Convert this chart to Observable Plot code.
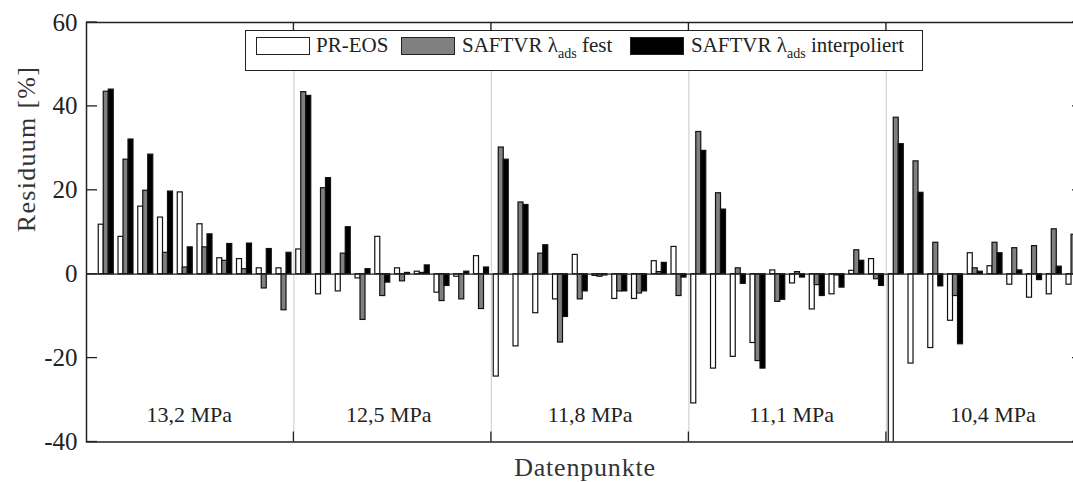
<!DOCTYPE html>
<html>
<head>
<meta charset="utf-8">
<script src="https://cdn.jsdelivr.net/npm/d3@7"></script>
<script src="https://cdn.jsdelivr.net/npm/@observablehq/plot@0.6"></script>
<style>
  html, body { margin: 0; padding: 0; background: #fff; overflow: hidden; }
  #wrap { position: relative; width: 1090px; height: 482px; }
  #wrap svg text { font-family: 'Liberation Serif', serif !important; }
  #legend { position: absolute; left: 245px; top: 30px; width: 676px; height: 39px;
    border: 1.5px solid #222; background: #fff; font-family: 'Liberation Serif', serif; color: #222; }
  #legend .sw { position: absolute; top: 5.5px; width: 52px; height: 16px; border: 1.5px solid #222; }
  #legend .tx { position: absolute; top: 3.5px; font-size: 21px; line-height: 20px; white-space: nowrap; font-family: 'Liberation Serif', serif; }
  #legend sub { font-size: 14px; vertical-align: -6px; line-height: 0; }
</style>
</head>
<body>
<div id="wrap"></div>
<script>
// Data (Residuum in %)
const seriesNames = ["PR-EOS", "SAFTVR λads fest", "SAFTVR λads interpoliert"];
const pr = [11.8, 8.9, 16.1, 13.5, 19.5, 11.9, 3.8, 3.6, 1.4, 1.4,
            5.9, -4.8, -4.1, -1.0, 8.9, 1.4, 0.6, -4.4, -0.6, 4.3,
            -24.4, -17.2, -9.3, -6.0, 4.6, -0.4, -5.9, -5.9, 3.1, 6.5,
            -30.8, -22.5, -19.7, -16.4, 0.9, -2.2, -8.4, -4.8, 0.8, 3.6,
            -42, -21.3, -17.6, -11.1, 5.0, 1.9, -2.5, -5.6, -4.8, -2.5];
const saftFest = [43.5, 27.3, 19.9, 5.1, 1.6, 6.4, 3.2, 1.2, -3.4, -8.6,
            43.4, 20.5, 4.9, -10.9, -5.2, -1.7, 0.3, -6.4, -6.0, -8.3,
            30.2, 17.1, 4.9, -16.3, -6.0, -0.6, -4.1, -4.6, 0.5, -5.2,
            33.9, 19.3, 1.4, -20.7, -6.6, 0.5, -2.6, -0.3, 5.7, -1.2,
            37.3, 26.9, 7.5, -5.2, 1.4, 7.5, 6.2, 6.7, 10.7, 9.4];
const saftInterp = [44.0, 32.1, 28.5, 19.7, 6.4, 9.5, 7.2, 7.3, 6.0, 5.1,
            42.5, 22.9, 11.2, 1.2, -2.0, 0.3, 2.1, -2.8, 0.6, 1.6,
            27.3, 16.5, 6.9, -10.2, -4.1, -0.3, -4.1, -4.1, 2.7, -0.8,
            29.4, 15.4, -2.3, -22.5, -6.1, -0.8, -5.2, -3.2, 3.2, -2.8,
            31.0, 19.4, -2.9, -16.7, 0.6, 5.0, 0.9, -1.4, 1.8, 1.0];
const pressures = ["13,2 MPa", "12,5 MPa", "11,8 MPa", "11,1 MPa", "10,4 MPa"];
const pressureLabelX = [5.2, 15.3, 25.5, 35.7, 45.9];
const separators = [10.5, 20.5, 30.5, 40.5];
const yTicks = [-40, -20, 0, 20, 40, 60];
const fills = ["#ffffff", "#808080", "#000000"];

const bw = 0.253;
const all = [pr, saftFest, saftInterp];
const rows = [];
all.forEach((vals, k) => vals.forEach((v, j) => {
  const i = j + 1;
  const c = i + (k - 1) * bw;
  rows.push({x1: c - bw / 2, x2: c + bw / 2, v, k});
}));
const labels = pressures.map((p, j) => ({p, x: pressureLabelX[j]}));

const font = "'Liberation Serif', serif";

const inwardTicks = (index, scales, values, dims) => {
  const g = d3.create("svg:g").attr("stroke", "#222").attr("stroke-width", 1.3);
  const L = dims.marginLeft, R = dims.width - dims.marginRight;
  const T = dims.marginTop, B = dims.height - dims.marginBottom;
  for (const t of yTicks) {
    const y = scales.y(t);
    g.append("line").attr("x1", L).attr("x2", L + 11).attr("y1", y).attr("y2", y);
    g.append("line").attr("x1", R).attr("x2", R - 11).attr("y1", y).attr("y2", y);
  }
  for (const s of separators) {
    const x = scales.x(s);
    g.append("line").attr("x1", x).attr("x2", x).attr("y1", B).attr("y2", B - 10);
    g.append("line").attr("x1", x).attr("x2", x).attr("y1", T).attr("y2", T + 10);
  }
  return g.node();
};

const chart = Plot.plot({
  width: 1090,
  height: 482,
  marginLeft: 86,
  marginRight: 7,
  marginTop: 22,
  marginBottom: 40.5,
  style: {fontFamily: font, background: "#fff", color: "#222"},
  x: {domain: [0, 50.48], axis: null},
  y: {domain: [-40, 60], axis: null},
  marks: [
    Plot.ruleX(separators, {stroke: "#d6d6d6", strokeWidth: 1.3}),
    Plot.rect(rows, {x1: "x1", x2: "x2", y1: 0, y2: "v", fill: d => fills[d.k], stroke: "#111", strokeWidth: 1.2, clip: true}),
    Plot.ruleY([0], {stroke: "#222", strokeWidth: 1.3}),
    Plot.text(labels, {x: "x", y: -33.6, text: "p", fontSize: 22, fontFamily: font, fill: "#222", lineAnchor: "middle"}),
    Plot.axisY(yTicks, {anchor: "left", tickSize: 0, tickPadding: 9, fontSize: 25, fontFamily: font, tickFormat: d => String(d), label: null}),
    Plot.text(["Residuum [%]"], {frameAnchor: "left", dx: -60, rotate: -90, fontSize: 26, fontFamily: font, fill: "#333", lineAnchor: "middle"}),
    Plot.text(["Datenpunkte"], {frameAnchor: "bottom", dy: 26, fontSize: 26, fontFamily: font, fill: "#333", lineAnchor: "middle"}),
    Plot.frame({stroke: "#222", strokeWidth: 1.5}),
    inwardTicks
  ]
});

// widen the two axis titles slightly, like the reference's wider typeface
d3.select(chart).selectAll("text").each(function() {
  const t = this.textContent;
  if (t === "Datenpunkte") this.style.letterSpacing = "0.8px";
  if (t === "Residuum [%]") this.style.letterSpacing = "1.3px";
});

const wrap = document.getElementById("wrap");
wrap.appendChild(chart);

// Legend (inside the plot, as in the reference)
const legend = document.createElement("div");
legend.id = "legend";
const items = [
  {sw: 10, tx: 70, fill: fills[0], html: "PR-EOS"},
  {sw: 155, tx: 216, fill: fills[1], html: "SAFTVR λ<sub>ads</sub> fest"},
  {sw: 384, tx: 445, fill: fills[2], html: "SAFTVR λ<sub>ads</sub> interpoliert"}
];
items.forEach(it => {
  const s = document.createElement("div");
  s.className = "sw"; s.style.left = it.sw + "px"; s.style.background = it.fill;
  legend.appendChild(s);
  const t = document.createElement("div");
  t.className = "tx"; t.style.left = it.tx + "px"; t.innerHTML = it.html;
  legend.appendChild(t);
});
wrap.appendChild(legend);
</script>
</body>
</html>
